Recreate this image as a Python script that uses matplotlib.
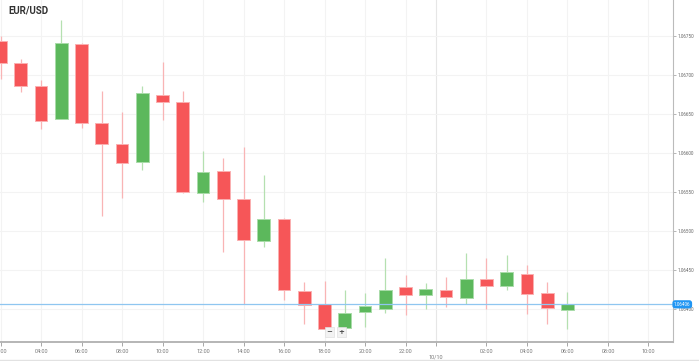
import matplotlib.pyplot as plt
from matplotlib.lines import Line2D

# hourly candles, 02:00 on 9/10 through 06:00 on 10/10 (hour 24 = midnight)
hours = list(range(2, 31))
opens = [1.06744, 1.06715, 1.06686, 1.06644, 1.06740, 1.06638, 1.06612, 1.06588,
         1.06675, 1.06665, 1.06549, 1.06577, 1.06541, 1.06487, 1.06516, 1.06423,
         1.06407, 1.06376, 1.06396, 1.06400, 1.06428, 1.06418, 1.06425, 1.06414,
         1.06438, 1.06429, 1.06445, 1.06421, 1.06399]
highs = [1.06750, 1.06721, 1.06694, 1.06770, 1.06741, 1.06680, 1.06652, 1.06686,
         1.06717, 1.06680, 1.06602, 1.06594, 1.06608, 1.06572, 1.06517, 1.06434,
         1.06436, 1.06424, 1.06420, 1.06465, 1.06443, 1.06433, 1.06441, 1.06472,
         1.06465, 1.06469, 1.06457, 1.06435, 1.06422]
lows = [1.06695, 1.06678, 1.06631, 1.06643, 1.06632, 1.06519, 1.06542, 1.06578,
        1.06642, 1.06549, 1.06537, 1.06473, 1.06406, 1.06479, 1.06412, 1.06381,
        1.06374, 1.06374, 1.06377, 1.06395, 1.06392, 1.06400, 1.06403, 1.06407,
        1.06400, 1.06424, 1.06394, 1.06381, 1.06375]
closes = [1.06715, 1.06686, 1.06641, 1.06741, 1.06639, 1.06611, 1.06587, 1.06677,
          1.06666, 1.06550, 1.06576, 1.06541, 1.06488, 1.06516, 1.06425, 1.06405,
          1.06375, 1.06395, 1.06404, 1.06424, 1.06418, 1.06426, 1.06416, 1.06438,
          1.06430, 1.06447, 1.06419, 1.06401, 1.06407]

last_price = 1.06406
price_ticks = [1.06400, 1.06450, 1.06500, 1.06550, 1.06600, 1.06650, 1.06700, 1.06750]
time_ticks = [2, 4, 6, 8, 10, 12, 14, 16, 18, 20, 22, 23.5, 26, 28, 30, 32, 34]
time_labels = ["02:00", "04:00", "06:00", "08:00", "10:00", "12:00", "14:00", "16:00",
               "18:00", "20:00", "22:00", "\n10/10", "02:00", "04:00", "06:00",
               "08:00", "10:00"]

up_face, up_edge, up_wick = "#5cb85c", "#a9dca9", "#b5e0b0"
dn_face, dn_edge, dn_wick = "#f65658", "#fbb0b1", "#f9b4b5"

fig = plt.figure(figsize=(6.99, 3.61), dpi=100)
ax = fig.add_axes([0, 19 / 361, 673 / 699, 342 / 361])

for h, o, hi, lo, c in zip(hours, opens, highs, lows, closes):
    up = c >= o
    ax.vlines(h, lo, hi, color=up_wick if up else dn_wick, lw=0.9, zorder=2)
    ax.bar(h, abs(c - o), bottom=min(o, c), width=0.64,
           color=up_face if up else dn_face,
           edgecolor=up_edge if up else dn_edge, linewidth=0.7, zorder=3)

ax.set_xlim(1.975, 35.21)
ax.set_ylim(1.063577, 1.067962)

# grid
for t in time_ticks:
    ax.axvline(t, color="#e6e6e6" if t == 23.5 else "#f3f3f3", lw=0.8, zorder=0)
for p in price_ticks:
    ax.axhline(p, color="#f3f3f3", lw=0.8, zorder=0)

# last price line + label
ax.axhline(last_price, color="#8fc6f0", lw=0.9, zorder=4)
ax.text(1.0015, last_price, "1.06406", transform=ax.get_yaxis_transform(),
        fontsize=3.3, family="Roboto", color="white", ha="left", va="center",
        bbox=dict(boxstyle="round,pad=0.35,rounding_size=0.6", fc="#2196f3", ec="none"),
        zorder=6, clip_on=False)

ax.yaxis.tick_right()
ax.set_yticks(price_ticks)
ax.set_yticklabels([f"{p:.5f}" for p in price_ticks])
ax.set_xticks(time_ticks)
ax.set_xticklabels(time_labels)
ax.tick_params(axis="y", length=2, width=0.6, colors="#aaaaaa", labelcolor="#666666",
               labelsize=3.3, pad=1.5)
ax.tick_params(axis="x", length=3, width=0.6, colors="#999999", labelcolor="#777777",
               labelsize=4, pad=2)
for lab in ax.get_xticklabels() + ax.get_yticklabels():
    lab.set_family("Roboto")

for side in ["top", "left"]:
    ax.spines[side].set_visible(False)
ax.spines["right"].set_color("#bbbbbb")
ax.spines["bottom"].set_color("#b5b5b5")
ax.spines["bottom"].set_linewidth(1.4)

# title and zoom buttons
ax.text(8 / 673, 1 - 10 / 342, "EUR/USD", transform=ax.transAxes, fontsize=7,
        fontweight="bold", family="Roboto", color="#333333", ha="left", va="center")
for xs, s in [(329.5, "\u2212"), (341.5, "+")]:
    ax.text(xs / 673, (342 - 332) / 342, s, transform=ax.transAxes, fontsize=5,
            fontweight="bold", color="#444444", ha="center", va="center", zorder=7,
            bbox=dict(boxstyle="square,pad=0.25", fc="#f2f2f2", ec="#e0e0e0", lw=0.5))

fig.add_artist(Line2D([0, 1], [1.2 / 361, 1.2 / 361], color="#e2e2e2", lw=1))

fig.savefig("out.png", dpi=100)
